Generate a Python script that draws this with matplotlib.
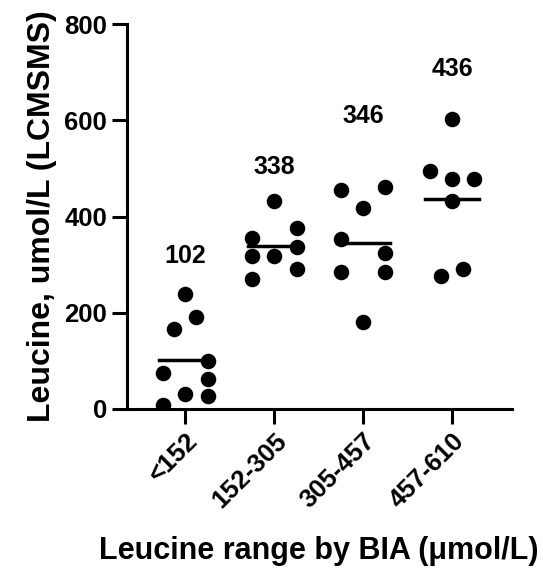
import matplotlib
matplotlib.use("Agg")
import matplotlib.pyplot as plt
import numpy as np

plt.rcParams['font.family'] = ['Liberation Sans', 'DejaVu Sans']
plt.rcParams['font.weight'] = 'bold'

# data
categories = ['<152', '152-305', '305-457', '457-610']
leucine = [
    [240, 192, 167, 100, 74, 62, 32, 28, 8],
    [433, 356, 376, 337, 319, 317, 290, 270],
    [456, 462, 417, 353, 324, 285, 285, 181],
    [603, 494, 478, 478, 432, 291, 277],
]
# horizontal jitter of each dot inside its column (category units)
jitter = [
    [0, 0.125, -0.125, 0.25, -0.25, 0.25, 0, 0.25, -0.25],
    [0, -0.25, 0.25, 0.25, -0.25, 0, 0.25, -0.25],
    [-0.25, 0.25, 0, -0.25, 0.25, -0.25, 0.25, 0],
    [0, -0.25, 0, 0.25, 0, 0.125, -0.125],
]
means = [102, 338, 346, 436]
label_y = [317, 503, 609, 707]

fig = plt.figure(figsize=(5.43, 5.74), dpi=100)
ax = fig.add_axes([0.2333, 0.2875, 0.7091, 0.6705])

for i, vals in enumerate(leucine):
    xs = i + np.array(jitter[i])
    ax.scatter(xs, vals, s=125, color='black', zorder=3, linewidths=0)
    ax.plot([i - 0.3, i + 0.3], [means[i], means[i]], color='black', lw=2.5, zorder=2)
    ax.text(i, label_y[i], str(means[i]), ha='center', va='center',
            fontsize=18, fontweight='bold')

ax.set_xlim(-0.66, 3.67)
ax.set_ylim(0, 800)
ax.set_yticks([0, 200, 400, 600, 800])
ax.set_xticks(range(len(categories)))
ax.set_xticklabels(categories, rotation=45, ha='right', va='top',
                   rotation_mode='anchor')

for s in ['top', 'right']:
    ax.spines[s].set_visible(False)
for s in ['left', 'bottom']:
    ax.spines[s].set_linewidth(2.2)
ax.tick_params(width=2.2, length=11, labelsize=18.5, pad=3)
for lab in ax.get_xticklabels() + ax.get_yticklabels():
    lab.set_fontweight('bold')

ax.set_ylabel('Leucine, umol/L (LCMSMS)', fontsize=23, fontweight='bold', labelpad=5)
ax.set_xlabel('Leucine range by BIA (\u03bcmol/L)', fontsize=22, fontweight='bold', labelpad=17)

fig.savefig('out.png', dpi=100)
